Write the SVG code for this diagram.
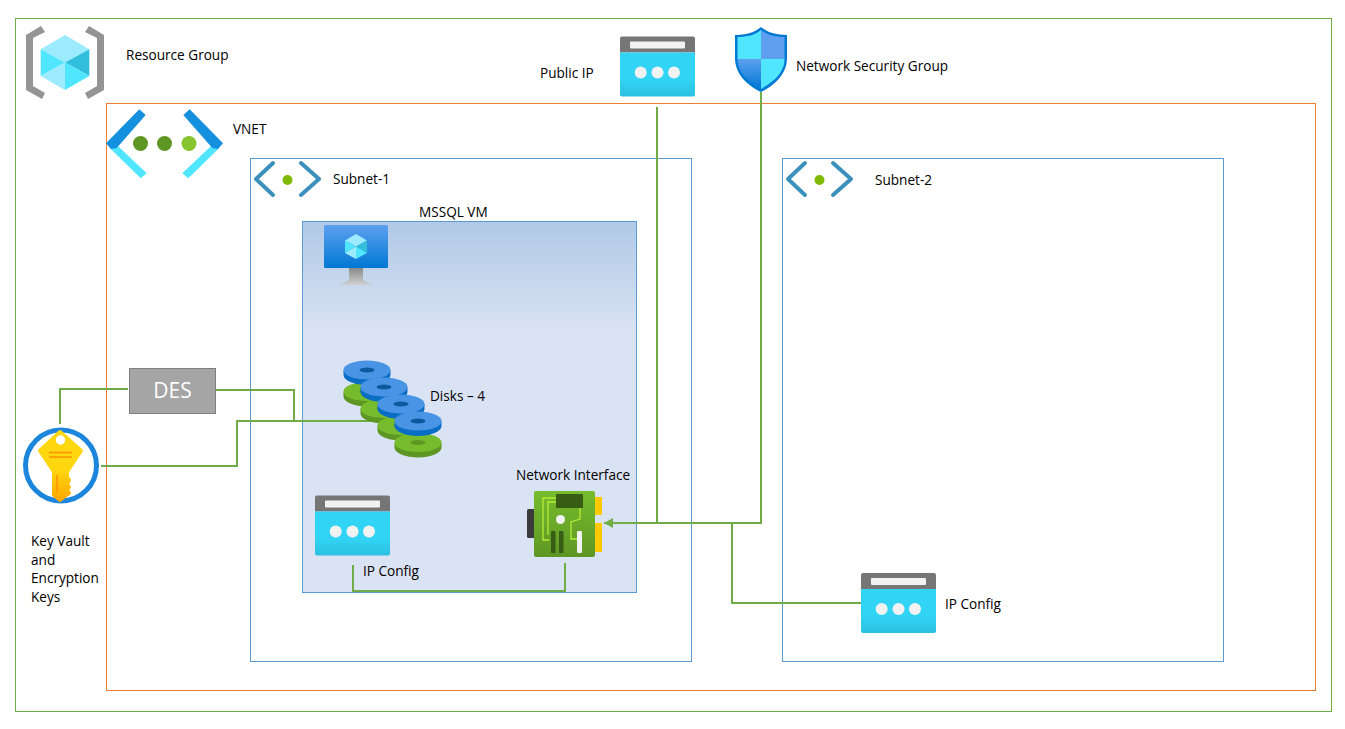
<svg xmlns="http://www.w3.org/2000/svg" xmlns:xlink="http://www.w3.org/1999/xlink" width="1345" height="729" viewBox="0 0 1345 729">
<style>
text{font-family:"Open Sans","Noto Sans","Liberation Sans",sans-serif;font-size:13.6px;fill:#000}
.box{fill:none;stroke-width:1}
.conn{fill:none;stroke:#70ad47;stroke-width:2}
.sub{fill:none;stroke:#3c91bc;stroke-width:4;stroke-linecap:round;stroke-linejoin:round}
</style>
<defs>
<linearGradient id="vmbg" x1="0" y1="0" x2="0" y2="1"><stop offset="0" stop-color="#b0c9e6"/><stop offset=".3" stop-color="#dae3f3"/><stop offset="1" stop-color="#dae3f3"/></linearGradient>
<linearGradient id="ipg" x1="0" y1="0" x2="0" y2="1"><stop offset="0" stop-color="#32d4f5"/><stop offset=".6" stop-color="#32d4f5"/><stop offset="1" stop-color="#2cc0e0"/></linearGradient>
<linearGradient id="blue" x1="0" y1="0" x2="0" y2="1"><stop offset="0" stop-color="#5ea0ef"/><stop offset="1" stop-color="#0078d4"/></linearGradient>
<linearGradient id="keyg" gradientUnits="userSpaceOnUse" x1="0" y1="430" x2="0" y2="502"><stop offset="0" stop-color="#ffd70f"/><stop offset=".55" stop-color="#ffd70f"/><stop offset="1" stop-color="#ffa400"/></linearGradient>
<linearGradient id="nicg" x1="0" y1="0" x2="0" y2="1"><stop offset="0" stop-color="#76bc2d"/><stop offset="1" stop-color="#5e9624"/></linearGradient>
<linearGradient id="standg" x1="0" y1="0" x2="0" y2="1"><stop offset="0" stop-color="#8a8a8a"/><stop offset="1" stop-color="#d0d0d0"/></linearGradient>
<marker id="arr" markerUnits="userSpaceOnUse" markerWidth="10" markerHeight="10" refX="9" refY="5" orient="auto"><path d="M0 0L9 5L0 10Z" fill="#70ad47"/></marker>
<g id="ip">
<path d="M2 0H73a2 2 0 0 1 2 2V16H0V2a2 2 0 0 1 2-2Z" fill="#767676"/>
<path d="M0 16H75V58a2 2 0 0 1-2 2H2a2 2 0 0 1-2-2Z" fill="url(#ipg)"/>
<rect x="10" y="5" width="55" height="7" rx="1" fill="#f2f2f2"/>
<circle cx="20.7" cy="36" r="6" fill="#f2f2f2"/><circle cx="37.5" cy="36" r="6" fill="#f2f2f2"/><circle cx="54" cy="36" r="6" fill="#f2f2f2"/>
</g>
<g id="disk-b"><path d="M-23.5 0V5A23.5 10 0 0 0 23.5 5V0Z" fill="#0a6ec4"/><ellipse rx="23.5" ry="9.5" fill="#4a94e6"/><ellipse cy="0" rx="7.5" ry="2.5" fill="#0b5a9e"/></g>
<g id="disk-g"><path d="M-23.5 0V5A23.5 10 0 0 0 23.5 5V0Z" fill="#5e9624"/><ellipse rx="23.5" ry="9.5" fill="#76bc2d"/><ellipse cy="0" rx="7.5" ry="2.5" fill="#5e9624"/></g>
</defs>
<rect width="1345" height="729" fill="#fff"/>
<g id="containers">
<rect id="resource-group" class="box" x="15.5" y="18.5" width="1316" height="693" stroke="#70ad47"/>
<rect id="vnet" class="box" x="106.5" y="103.5" width="1209" height="587" stroke="#ed7d31"/>
<rect id="subnet-1" class="box" x="250.5" y="158.5" width="441" height="503" stroke="#5b9bd5"/>
<rect id="subnet-2" class="box" x="782.5" y="158.5" width="441" height="503" stroke="#5b9bd5"/>
<rect id="mssql-vm" x="302.5" y="221.5" width="334" height="371" fill="url(#vmbg)" stroke="#5b9bd5"/>
</g>
<g id="connectors">
<path class="conn" d="M60 424V389H128"/>
<path class="conn" d="M216 390H294V420"/>
<path class="conn" d="M101 466H237V421H378"/>
<path class="conn" d="M657 107V523"/>
<path class="conn" d="M761 92V523H604" marker-end="url(#arr)"/>
<path class="conn" d="M861 603H732V523"/>
<path class="conn" d="M353 565V591H565V563"/>
</g>
<g id="node-resource-group">
<path d="M41 26L26 35V90L42 99L45 93L33 86V38L45 32Z" fill="#949494"/>
<path d="M89 26L104 35V90L88 99L85 93L97 86V38L85 32Z" fill="#949494"/>
<path d="M65 35L89.300 49.300L65 62.500L40.700 49.300Z" fill="#9cebff"/>
<path d="M40.700 49.300L65 62.500L40.700 76Z" fill="#50e6ff"/>
<path d="M89.300 49.300V76L65 62.500Z" fill="#32bedd"/>
<path d="M40.700 76L65 62.500V90Z" fill="#9cebff"/>
<path d="M89.300 76L65 62.500V90Z" fill="#50e6ff"/>
<text x="126" y="60">Resource Group</text>
</g>
<g id="node-vnet">
<path d="M115 143.300L146.700 173.300L140.700 178.300L110 148.300Z" fill="#50e6ff"/>
<path d="M214 143.300L182.300 173.300L188.300 178.300L219 148.300Z" fill="#50e6ff"/>
<path d="M106 143.300L139.300 109.300L145.700 115L116.700 148L111 149Z" fill="#1490df"/>
<path d="M223 143.300L189.700 109.300L183.300 115L212.300 148L218 149Z" fill="#1490df"/>
<circle cx="140.500" cy="143.500" r="7.500" fill="#5e9624"/><circle cx="164.500" cy="143.500" r="7.500" fill="#5e9624"/><circle cx="189" cy="143.500" r="7.500" fill="#86c52f"/>
<text x="233" y="134">VNET</text>
</g>
<g id="node-subnet-1">
<path class="sub" d="M273 163L256 179L273 195M301 163L319 179L301 195"/>
<circle cx="287.500" cy="180" r="5" fill="#7fba00"/>
<text x="333" y="184">Subnet-1</text>
</g>
<g id="node-subnet-2">
<path class="sub" d="M805 163L788 179L805 195M833 163L851 179L833 195"/>
<circle cx="819.500" cy="180" r="5" fill="#7fba00"/>
<text x="875" y="185">Subnet-2</text>
</g>
<g id="node-public-ip">
<use href="#ip" x="620" y="36.500"/>
<text x="540" y="78">Public IP</text>
</g>
<g id="node-nsg">
<path d="M761 27C768 33 777 35 787 35V58C787 74 775 85 761 92C747 85 735 74 735 58V35C745 35 754 33 761 27Z" fill="#0078d4"/>
<path d="M761 30V59H737.500V37C747 37 755 35 761 30Z" fill="#50e6ff"/>
<path d="M761 30C767 35 775 37 784.500 37V59H761Z" fill="#5ea0ef"/>
<path d="M737.500 59H761V89C749 82 737.500 73 737.500 59Z" fill="url(#blue)"/>
<path d="M761 59H784.500C784.500 73 773 82 761 89Z" fill="#50e6ff"/>
<text x="796" y="71">Network Security Group</text>
</g>
<g id="node-vm">
<path d="M349 268H363V280L372 285H340L349 280Z" fill="url(#standg)"/>
<rect x="324" y="225" width="64" height="43" rx="1.500" fill="url(#blue)"/>
<path d="M356 234L367 240.500L356 246.500L345 240.500Z" fill="#9cebff"/>
<path d="M345 240.500L356 246.500L345 253Z" fill="#50e6ff"/>
<path d="M367 240.500V253L356 246.500Z" fill="#32bedd"/>
<path d="M345 253L356 246.500V259Z" fill="#9cebff"/>
<path d="M367 253L356 246.500V259Z" fill="#50e6ff"/>
<text x="419" y="217">MSSQL VM</text>
</g>
<g id="node-disks">
<use href="#disk-g" x="367" y="391.500"/><use href="#disk-b" x="367" y="370"/>
<use href="#disk-g" x="384" y="408.500"/><use href="#disk-b" x="384" y="387"/>
<use href="#disk-g" x="401" y="425.500"/><use href="#disk-b" x="401" y="404"/>
<use href="#disk-g" x="418" y="442.500"/><use href="#disk-b" x="418" y="421"/>
<text x="430" y="401">Disks – 4</text>
</g>
<g id="node-nic">
<rect x="527" y="509" width="8" height="29" rx="1.500" fill="#3b3b3b"/>
<rect x="594" y="497" width="8" height="18" fill="#ffca00"/>
<rect x="594" y="523" width="8" height="29" fill="#ffca00"/>
<rect x="534" y="491" width="61" height="66" rx="2" fill="url(#nicg)"/>
<path d="M556 498H543V540H549M556 502H548V535" fill="none" stroke="#b4ec36" stroke-width="1.300"/>
<path d="M580 508V519L571 522V539H577" fill="none" stroke="#b4ec36" stroke-width="1.300"/>
<rect x="556" y="494" width="27" height="14" rx="1" fill="#375c14"/>
<circle cx="560.500" cy="519.500" r="4.500" fill="#f2f2f2"/>
<rect x="551" y="531" width="4.500" height="22" rx="1" fill="#375c14"/>
<rect x="559" y="531" width="4.500" height="22" rx="1" fill="#375c14"/>
<rect x="577" y="531" width="5" height="22" rx="1" fill="#f2f2f2"/>
<text x="516" y="480">Network Interface</text>
</g>
<g id="node-ip-config-1">
<use href="#ip" x="315" y="495.500"/>
<text x="363" y="576">IP Config</text>
</g>
<g id="node-ip-config-2">
<use href="#ip" x="861" y="573"/>
<text x="945" y="609">IP Config</text>
</g>
<g id="node-des">
<rect x="129.500" y="368.500" width="86" height="45" fill="#a5a5a5" stroke="#7f7f7f"/>
<text x="172.500" y="398" text-anchor="middle" style="font-size:21px;fill:#fff">DES</text>
</g>
<g id="node-key-vault">
<circle cx="61" cy="465.500" r="35.500" fill="#fff" stroke="#1b86dc" stroke-width="5"/>
<path d="M60 432L81 450.700L67 471.700V478L69 480L67 484L69 487L67 490L69 493L60 500L54 495V471.700L40 450.700Z" fill="url(#keyg)" stroke="url(#keyg)" stroke-linejoin="round" stroke-width="4"/>
<circle cx="60.500" cy="440" r="4.700" fill="#fff"/>
<path d="M49 452.500H72M49 457H72M57 475V493" fill="none" stroke="#ff9300" stroke-width="1.500"/>
<text x="31" y="546">Key Vault</text>
<text x="31" y="565">and</text>
<text x="31" y="583">Encryption</text>
<text x="31" y="602">Keys</text>
</g>
</svg>
